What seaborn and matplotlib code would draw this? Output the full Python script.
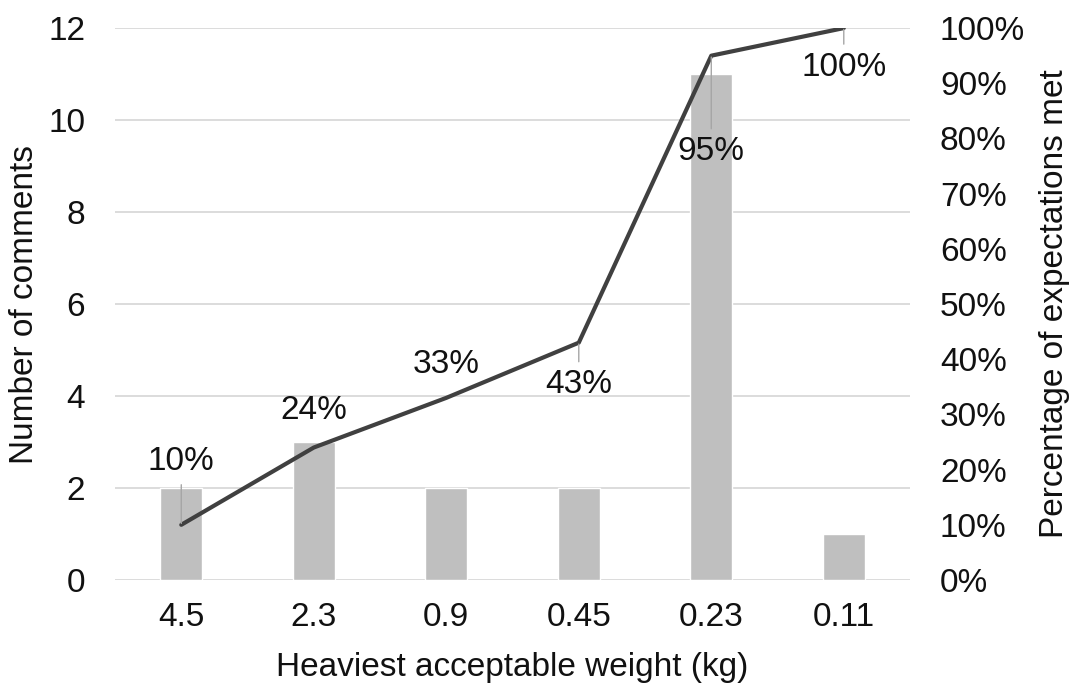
import matplotlib
matplotlib.use("Agg")
import matplotlib.pyplot as plt
import seaborn as sns
import pandas as pd
from matplotlib.ticker import PercentFormatter, MultipleLocator

weights = ["4.5", "2.3", "0.9", "0.45", "0.23", "0.11"]
comments = [2, 3, 2, 2, 11, 1]
pct_met = [10, 24, 33, 43, 95, 100]
pct_labels = ["10%", "24%", "33%", "43%", "95%", "100%"]
# label offsets (pixels, above positive) and whether a leader line is drawn
label_dy = [63, 37, 33, -42, -96, -39]
leader = [True, False, False, True, True, True]

sns.set_theme(style="white")
plt.rcParams['font.family'] = ['Liberation Sans', 'DejaVu Sans']
FS = 24
TXT = "#111111"

df = pd.DataFrame({"weight": weights, "comments": comments, "pct": pct_met})

fig = plt.figure(figsize=(10.7, 6.85), dpi=100)
ax = fig.add_axes([0.1075, 0.1533, 0.743, 0.8057])

sns.barplot(data=df, x="weight", y="comments", order=weights, color="#bfbfbf",
            saturation=1, width=0.32, ax=ax, zorder=2)
ax.set_ylim(0, 12)
ax.yaxis.set_major_locator(MultipleLocator(2))
ax.grid(axis="y", color="#d9d9d9", lw=1.3, zorder=0)
ax.set_axisbelow(True)
for s in ax.spines.values():
    s.set_visible(False)
ax.set_xlabel("Heaviest acceptable weight (kg)", fontsize=FS, color=TXT)
ax.set_ylabel("Number of comments", fontsize=FS, color=TXT)
ax.xaxis.set_label_coords(0.5, -0.130)
ax.yaxis.set_label_coords(-0.094, 0.5)
ax.tick_params(axis="x", labelsize=FS, length=0, pad=16, labelcolor=TXT)
ax.tick_params(axis="y", labelsize=FS, length=0, pad=21.5, labelcolor=TXT)

ax2 = ax.twinx()
sns.pointplot(data=df, x="weight", y="pct", order=weights, color="#404040",
              markers="", linestyles="-", errorbar=None, ax=ax2, zorder=3)
for ln in ax2.lines:
    ln.set_linewidth(3)
ax2.set_ylim(0, 100)
ax2.yaxis.set_major_locator(MultipleLocator(10))
ax2.yaxis.set_major_formatter(PercentFormatter(decimals=0))
for s in ax2.spines.values():
    s.set_visible(False)
ax2.grid(False)
ax2.set_ylabel("Percentage of expectations met", fontsize=FS, color=TXT)
ax2.yaxis.set_label_coords(1.162, 0.50)
ax2.tick_params(axis="y", labelsize=FS, length=0, pad=21.5, labelcolor=TXT)
ax2.set_xlabel("")

for i, (v, lab, dy, ld) in enumerate(zip(pct_met, pct_labels, label_dy, leader)):
    kw = {}
    if ld:
        kw["arrowprops"] = dict(arrowstyle="-", color="#a6a6a6", lw=1,
                                shrinkA=3, shrinkB=1)
    ax2.annotate(lab, xy=(i, v), xytext=(0, dy * 0.72), textcoords="offset points",
                 ha="center", va="center", fontsize=FS, color=TXT, zorder=5, **kw)

fig.savefig("out.png", dpi=100)
